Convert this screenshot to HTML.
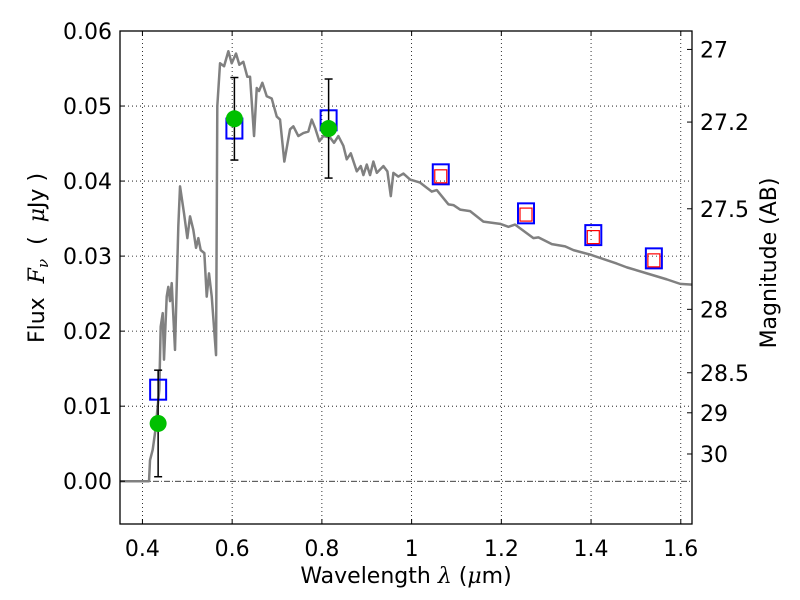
<!DOCTYPE html>
<html><head><meta charset="utf-8"><style>
body{margin:0;background:#fff}
svg{display:block;font-family:"DejaVu Sans","Liberation Sans",sans-serif}
</style></head><body>
<svg id="chart" width="800" height="600" viewBox="0 0 800 600" xmlns="http://www.w3.org/2000/svg">
<g id="grid"></g>
<g id="marks"></g>
<rect x="120" y="31" width="572" height="493" fill="none" stroke="#000" stroke-width="1.3"/>
<g id="axes" font-size="22"></g>
<text x="406" y="583" text-anchor="middle" font-size="22">Wavelength  <tspan font-style="italic" font-family="DejaVu Serif,serif">λ</tspan> (<tspan font-style="italic" font-family="DejaVu Serif,serif">μ</tspan>m)</text>
<text transform="translate(44,258) rotate(-90)" text-anchor="middle" font-size="22" xml:space="preserve">Flux  <tspan font-style="italic" font-family="DejaVu Serif,serif">F<tspan font-size="15" dy="4">ν</tspan></tspan><tspan dy="-4">  (  </tspan><tspan font-style="italic" font-family="DejaVu Serif,serif">μ</tspan>Jy )</text>
<text transform="translate(776,263) rotate(-90)" text-anchor="middle" font-size="22">Magnitude (AB)</text>
</svg>
<script>
const specLam=[0.35,0.4147,0.4169,0.4229,0.428,0.4318,0.4376,0.4407,0.4452,0.4481,0.4541,0.4577,0.4615,0.4653,0.4726,0.48,0.4838,0.4927,0.5001,0.5061,0.5134,0.5195,0.5246,0.5299,0.538,0.5433,0.5484,0.5545,0.5641,0.5669,0.573,0.582,0.5915,0.599,0.6086,0.616,0.6249,0.6338,0.6399,0.6488,0.6548,0.6599,0.6673,0.6771,0.6882,0.6994,0.7067,0.7163,0.729,0.7364,0.7475,0.7587,0.7698,0.7774,0.7848,0.7944,0.8033,0.8182,0.8271,0.8367,0.8479,0.8554,0.8644,0.8778,0.8867,0.8925,0.9001,0.9074,0.9148,0.9224,0.9371,0.946,0.9536,0.9594,0.9705,0.9817,0.9966,1.0189,1.045,1.0561,1.082,1.0932,1.1081,1.1304,1.16,1.1973,1.2158,1.2307,1.2715,1.2827,1.3126,1.3422,1.3607,1.3979,1.4575,1.4798,1.5244,1.569,1.5987,1.625];
const specFlux=[0,0,0.0028,0.0042,0.0064,0.0086,0.0122,0.0206,0.0224,0.0162,0.0246,0.0259,0.024,0.0264,0.0175,0.034,0.0393,0.0357,0.0324,0.0353,0.0335,0.0311,0.0324,0.0308,0.0304,0.0246,0.0277,0.0246,0.0168,0.05,0.0557,0.0553,0.0573,0.0557,0.057,0.0555,0.0559,0.0539,0.0539,0.046,0.0524,0.052,0.0531,0.0513,0.051,0.0486,0.0482,0.0426,0.0469,0.0473,0.046,0.0464,0.0466,0.0482,0.0471,0.0453,0.046,0.0458,0.0451,0.046,0.0447,0.0429,0.0437,0.0413,0.042,0.0408,0.0422,0.0408,0.0426,0.0411,0.042,0.0413,0.038,0.0411,0.0406,0.041,0.0402,0.0398,0.0386,0.0388,0.0369,0.0368,0.0362,0.036,0.0346,0.0343,0.0339,0.0342,0.0324,0.0325,0.0316,0.0313,0.0308,0.0302,0.029,0.0285,0.0277,0.0269,0.0263,0.0262];
const obsLam=[0.435,0.605,0.815];
const obsFlux=[0.0077,0.0483,0.047];
const obsErr=[0.0071,0.0055,0.0066];
const modLam=[0.435,0.605,0.815,1.065,1.255,1.405,1.54];
const modFlux=[0.0122,0.047,0.0481,0.0409,0.0357,0.0328,0.0297];
const synLam=[1.065,1.255,1.405,1.54];
const synFlux=[0.0407,0.0356,0.0326,0.0295];
const xTicks=[0.4,0.6,0.8,1.0,1.2,1.4,1.6];
const xTickLabels=["0.4","0.6","0.8","1","1.2","1.4","1.6"];
const yTicks=[0,0.01,0.02,0.03,0.04,0.05,0.06];
const yTickLabels=["0.00","0.01","0.02","0.03","0.04","0.05","0.06"];
const magTicks=[27,27.2,27.5,28,28.5,29,30];
const magTickLabels=["27","27.2","27.5","28","28.5","29","30"];

const X0=120,X1=692,Y0=524,Y1=31,xmin=0.35,xmax=1.625,ymin=-0.0057,ymax=0.06;
const sx=v=>X0+(v-xmin)/(xmax-xmin)*(X1-X0);
const sy=v=>Y0-(v-ymin)/(ymax-ymin)*(Y0-Y1);
const NS="http://www.w3.org/2000/svg";
function mk(tag,parent,attrs){const e=document.createElementNS(NS,tag);for(const k in attrs)e.setAttribute(k,attrs[k]);parent.appendChild(e);return e;}
const grid=document.getElementById('grid'),marks=document.getElementById('marks'),axes=document.getElementById('axes');

xTicks.forEach((t,i)=>{
  const l=mk('line',grid,{x1:sx(t),x2:sx(t),y1:Y1,y2:Y0,stroke:'#000','stroke-width':0.8,'stroke-dasharray':'1,3'});
  
  
  mk('line',axes,{x1:sx(t),x2:sx(t),y1:Y0,y2:Y0-5,stroke:'#000'});
  mk('line',axes,{x1:sx(t),x2:sx(t),y1:Y1,y2:Y1+5,stroke:'#000'});
  const tx=mk('text',axes,{x:sx(t),y:556,'text-anchor':'middle'});
  tx.textContent=xTickLabels[i];
  
  
});
yTicks.forEach((t,i)=>{
  if(t!==0){
    const l=mk('line',grid,{x1:X0,x2:X1,y1:sy(t),y2:sy(t),stroke:'#000','stroke-width':0.8,'stroke-dasharray':'1,3'});
    
    
  }
  mk('line',axes,{x1:X0,x2:X0+5,y1:sy(t),y2:sy(t),stroke:'#000'});
  const tx=mk('text',axes,{x:112,y:sy(t)+8,'text-anchor':'end'});
  tx.textContent=yTickLabels[i];
  
  
});
const zl=mk('line',grid,{x1:X0,x2:X1,y1:sy(0),y2:sy(0),stroke:'#000','stroke-width':0.8,'stroke-dasharray':'6,2,1,2'});


magTicks.forEach((m,i)=>{
  const f=Math.pow(10,-(m-23.9)/2.5);
  mk('line',axes,{x1:X1,x2:X1-5,y1:sy(f),y2:sy(f),stroke:'#000'});
  const tx=mk('text',axes,{x:700,y:sy(f)+8,'text-anchor':'start'});
  tx.textContent=magTickLabels[i];
  
  
});

const sp=mk('polyline',marks,{points:specLam.map((l,i)=>sx(l)+','+sy(specFlux[i])).join(' '),fill:'none',stroke:'#808080','stroke-width':2.5,'stroke-linejoin':'round'});



modLam.forEach((l,i)=>{
  const r=mk('rect',marks,{x:sx(l)-8,y:sy(modFlux[i])-10,width:16,height:20,fill:'none',stroke:'#0000ff','stroke-width':2});
  
  
});
synLam.forEach((l,i)=>{
  const r=mk('rect',marks,{x:sx(l)-6,y:sy(synFlux[i])-6,width:12,height:13,fill:'none',stroke:'#ff0000','stroke-width':1.2});
  
  
});
obsLam.forEach((l,i)=>{
  const g=mk('g',marks,{});
  
  
  const x=sx(l),yt=sy(obsFlux[i]+obsErr[i]),yb=sy(obsFlux[i]-obsErr[i]);
  mk('line',g,{x1:x,x2:x,y1:yt,y2:yb,stroke:'#000','stroke-width':1.5});
  mk('line',g,{x1:x-4,x2:x+4,y1:yt,y2:yt,stroke:'#000','stroke-width':1.5});
  mk('line',g,{x1:x-4,x2:x+4,y1:yb,y2:yb,stroke:'#000','stroke-width':1.5});
  mk('circle',g,{cx:x,cy:sy(obsFlux[i]),r:8.5,fill:'#00c000'});
});
</script>
</body></html>
